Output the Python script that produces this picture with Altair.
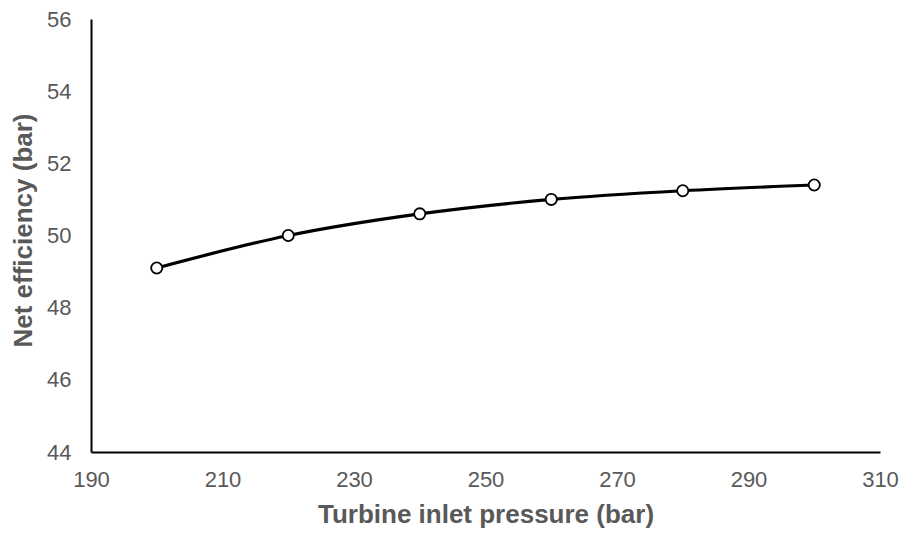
import altair as alt
import pandas as pd

pressure = [200, 220, 240, 260, 280, 300]
efficiency = [49.1, 50.0, 50.6, 51.0, 51.24, 51.4]
x_ticks = [190, 210, 230, 250, 270, 290, 310]
y_ticks = [44, 46, 48, 50, 52, 54, 56]

df = pd.DataFrame({"pressure": pressure, "efficiency": efficiency})

FONT = "Liberation Sans"
GRAY = "#595959"
W = 789
H = 433

x_enc = alt.X(
    "pressure:Q",
    scale=alt.Scale(domain=[190, 310], nice=False, zero=False),
    axis=alt.Axis(
        title="Turbine inlet pressure (bar)",
        values=x_ticks,
        grid=False,
        ticks=False,
        tickSize=0,
        domainColor="black",
        domainWidth=2,
        labelFont=FONT,
        labelFontSize=22,
        labelColor=GRAY,
        labelPadding=17,
        labelFlush=False,
        labelOverlap=False,
        titleFont=FONT,
        titleFontSize=26,
        titleFontWeight="bold",
        titleColor=GRAY,
        titleX=W / 2,
        titleY=70,
        titleAnchor="middle",
        titleBaseline="alphabetic",
    ),
)

y_enc = alt.Y(
    "efficiency:Q",
    scale=alt.Scale(domain=[44, 56], nice=False, zero=False),
    axis=alt.Axis(
        title="Net efficiency (bar)",
        values=y_ticks,
        grid=False,
        ticks=False,
        tickSize=0,
        domainColor="black",
        domainWidth=2,
        labelFont=FONT,
        labelFontSize=22,
        labelColor=GRAY,
        labelPadding=20,
        labelFlush=False,
        labelOverlap=False,
        titleFont=FONT,
        titleFontSize=26,
        titleFontWeight="bold",
        titleColor=GRAY,
        titleAngle=-90,
        titleX=-67.5,
        titleY=211,
        titleAlign="center",
        titleBaseline="middle",
    ),
)

line = alt.Chart(df).mark_line(
    color="black", strokeWidth=3.2, interpolate="cardinal"
).encode(x=x_enc, y=y_enc)

points = alt.Chart(df).mark_point(
    shape="circle", filled=True, fill="white", stroke="black",
    strokeWidth=1.8, size=125, opacity=1
).encode(x="pressure:Q", y="efficiency:Q")

chart = (line + points).properties(
    width=W,
    height=H,
    autosize=alt.AutoSizeParams(type="none"),
    padding={"left": 83, "top": 11, "right": 19, "bottom": 80},
).configure_view(stroke=None)

chart.save("out.html", embed_options={"renderer": "svg", "actions": False})
